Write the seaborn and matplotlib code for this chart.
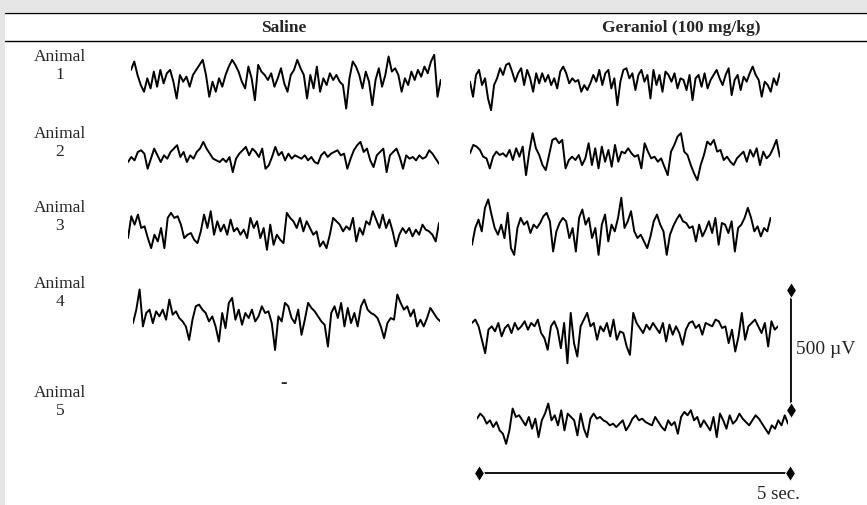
import numpy as np
import pandas as pd
import matplotlib
matplotlib.use("Agg")
import matplotlib.pyplot as plt
from matplotlib.patches import Rectangle
import seaborn as sns

sns.set_theme(style="white")
plt.rcParams['font.family'] = ['Liberation Serif', 'DejaVu Serif']

W, H = 867, 505
GROUPS = ['Saline', 'Geraniol (100 mg/kg)']
ANIMALS = ['1', '2', '3', '4', '5']

# EEG traces, in µV (positive = up)
SALINE_1 = [42, 77, 21, -21, -49, 7, -35, 35, -28, 42, -14, 28, 42, -7, -77, 21, -7, 14, -28, 21,
            42, 63, 84, 21, -70, -7, -49, 7, -28, 21, 56, 84, 63, 35, -7, -35, 56, 7, -84, 63,
            35, 21, 0, 28, -28, 7, 49, -14, -49, 21, 42, 84, 49, 21, -77, 21, -35, 56, -49, 7,
            -21, 28, 0, 21, -7, -21, -119, 7, 77, 56, 21, -35, 35, -7, -105, 0, 49, -28, 21, 98,
            35, 49, 21, -49, 7, -21, 35, 0, 42, 14, 56, 28, 77, 105, -70, 0]
GERANIOL_1 = [-7, -70, 21, 42, -21, 7, -77, -126, -21, 7, 49, 21, 63, 70, 35, -7, 28, 49, -21, 42,
              7, -49, 28, -14, 28, -7, 21, -21, 7, -35, 35, 56, 28, -14, 7, -7, 0, -49, -21, -42,
              -14, 21, -7, 42, -21, 28, 42, -35, 7, -105, -7, 42, 49, 7, 28, -42, 21, 42, -7, 21,
              -77, 42, -21, 21, -49, 35, 21, -7, 28, -35, 7, 0, -42, 21, -84, 7, 21, -28, 28, -35,
              0, 21, 42, 7, -21, 21, 49, -63, 0, 21, -42, 14, -7, 28, 56, 21, 0, -70, -7, -21,
              -49, 7, -21, 28]
SALINE_2 = [-21, 0, -14, 21, 28, 14, -49, -7, 35, 7, -21, 7, -7, 21, 35, 49, 0, 21, -21, 7,
            -7, 21, 35, 63, 35, 14, -7, -14, -21, -7, -21, 0, -63, -7, 14, 28, 42, 7, 35, 21,
            0, 35, -49, -35, 0, 42, 7, 21, -14, 14, -7, 7, 0, -7, 7, -14, 0, -21, -28, 7,
            21, 0, 14, 21, 28, 7, 14, -49, -7, 28, 49, 63, 21, 35, -14, -42, 7, 21, 35, -63,
            7, 21, 35, 0, -49, 7, -7, 0, -14, 7, -7, 0, 28, 14, -7, -28]
GERANIOL_2 = [7, 42, 35, 21, -7, -14, -56, -7, 14, 0, 7, -7, 21, -21, 28, -7, 35, -84, 14, 91,
              28, 0, -42, -63, 0, 63, 70, 49, 63, -56, -21, -7, -21, 0, -42, -14, 49, -42, 28, -56,
              35, -28, 21, -49, 42, -28, 14, 7, 28, 7, -7, 0, -56, 49, 14, -14, -7, -28, -14, -49,
              -84, 14, 42, 77, 91, 14, 0, -42, -77, -105, -42, 0, 56, 42, 63, 14, 21, -21, -7, -28,
              -42, -14, 0, 14, -28, 21, -7, 28, -42, 14, -14, 0, 28, 63, -7]
SALINE_3 = [-42, 49, 14, 56, 0, 7, -42, -84, -28, -56, 0, -84, 42, 63, 42, 49, 14, -42, -28, -21,
            -49, -63, -14, 56, 0, 70, -28, 28, -14, 14, -28, 35, -14, 0, -28, -7, -42, 42, 0, 28,
            -42, 0, -91, 14, -70, -28, -49, -63, 63, 42, 28, 0, 42, -14, 28, 0, -28, -14, -77, -56,
            -84, -28, 42, 28, 14, -14, 7, -7, 42, -56, 0, -28, 28, 14, 70, 35, 0, 56, 0, 35,
            -14, -77, -28, 0, -21, 0, -35, -7, -28, 14, -7, -14, -28, -56, 21]
GERANIOL_3 = [-70, 0, 35, -14, 84, 119, 56, 0, -28, 14, -42, 63, -84, -112, 0, 42, 14, 28, -21, 14,
              0, 21, 49, 63, 28, -98, -14, 21, 42, 28, -42, 0, -98, 42, 77, 14, 42, -42, 0, -112,
              14, 56, -56, 14, -14, 42, 126, 0, 28, 70, -14, -42, -28, -56, -84, -35, 28, 56, 14, -14,
              -112, -28, 7, 35, 56, 28, 21, 0, 7, -56, 14, -35, -7, 28, -21, 42, -70, 21, 14, -21,
              28, -98, 0, 14, 42, 84, 42, -14, 7, -35, 0, -14, 42]
SALINE_4 = [-42, 14, 98, -56, 0, 14, -42, 7, -14, 14, -28, 56, -7, 7, -21, -35, -56, -112, -28, 28,
            35, 14, 0, -35, -14, -56, -119, 0, -63, 42, 63, -28, 14, -49, 0, -21, 14, -35, -14, 28,
            0, 7, -42, -154, -14, -35, 42, 28, -21, -42, 14, -91, -28, 42, 21, 7, -14, -35, -49, -140,
            0, 28, -21, 42, -56, 21, -42, 0, -56, 28, 56, 14, 0, -7, -21, -56, -105, -42, -21, -28,
            77, 42, 14, 28, -14, 14, -56, -28, -56, -21, 21, 0, -21, -35]
GERANIOL_4 = [21, 35, 7, -49, -105, -7, 7, -14, 21, -35, 0, 14, -21, 21, -7, 7, 28, -7, 21, 7,
              35, -21, -42, -91, 7, 28, -7, -84, 21, -147, 63, -63, -119, 7, 35, 63, 7, 21, -49, 7,
              -14, 21, -35, 35, -49, -14, -21, -77, -112, 63, 21, 0, -21, 14, -7, 21, 0, -21, 21, -56,
              14, -28, 7, -21, -70, -7, 21, 28, 0, 14, -28, 21, 14, 7, 35, 28, 0, 7, -63, -7,
              -98, -35, 63, -49, 7, 21, 35, 7, -21, 21, -77, 28, -7, 7]
GERANIOL_5 = [14, 35, 21, -7, 7, -21, 0, -35, -49, -91, -35, 56, 21, 28, 7, -14, 21, -28, 14, -63,
              7, 35, 77, 7, 28, -14, 49, -35, 35, 21, 7, -56, 35, -28, -63, 14, 35, 14, 21, 7,
              0, -14, -7, -21, -7, 7, -35, -14, 14, 28, 7, 14, 0, -7, -14, 21, 0, -21, -35, 7,
              -14, 0, -49, 21, 42, 28, 49, 7, 21, -21, 7, -14, -35, 21, -63, 35, 7, -28, 28, -7,
              7, 35, 14, 0, -14, 7, 28, 14, -7, -28, -49, -14, -28, 7, -14, 28, -7]

TRACES = {
    ('Saline', '1'): SALINE_1, ('Geraniol (100 mg/kg)', '1'): GERANIOL_1,
    ('Saline', '2'): SALINE_2, ('Geraniol (100 mg/kg)', '2'): GERANIOL_2,
    ('Saline', '3'): SALINE_3, ('Geraniol (100 mg/kg)', '3'): GERANIOL_3,
    ('Saline', '4'): SALINE_4, ('Geraniol (100 mg/kg)', '4'): GERANIOL_4,
    ('Geraniol (100 mg/kg)', '5'): GERANIOL_5,
}
# recording length of each trace in seconds
DURATION = {
    ('Saline', '1'): 4.98, ('Geraniol (100 mg/kg)', '1'): 4.98,
    ('Saline', '2'): 5.0, ('Geraniol (100 mg/kg)', '2'): 4.98,
    ('Saline', '3'): 5.0, ('Geraniol (100 mg/kg)', '3'): 4.8,
    ('Saline', '4'): 4.94, ('Geraniol (100 mg/kg)', '4'): 4.92,
    ('Geraniol (100 mg/kg)', '5'): 5.0,
}
SCALE_UV = 500
SCALE_SEC = 5

# layout (pixels)
PX_PER_SEC = 311 / 5
PX_PER_UV = 120 / 500
TRACE_POS = {
    ('Saline', '1'): (131, 80), ('Geraniol (100 mg/kg)', '1'): (470, 80),
    ('Saline', '2'): (128, 157), ('Geraniol (100 mg/kg)', '2'): (470, 155),
    ('Saline', '3'): (128, 228), ('Geraniol (100 mg/kg)', '3'): (472, 228),
    ('Saline', '4'): (133, 313), ('Geraniol (100 mg/kg)', '4'): (472, 328),
    ('Geraniol (100 mg/kg)', '5'): (477, 422),
}
HEADER_X = {'Saline': 284, 'Geraniol (100 mg/kg)': 681}
LABEL_Y = {'1': 66, '2': 143, '3': 217, '4': 293, '5': 402}


def px_axes(fig, x0, ytop, w, h):
    return fig.add_axes([x0 / W, 1 - (ytop + h) / H, w / W, h / H])


fig = plt.figure(figsize=(W / 100, H / 100), dpi=100)
fig.patch.set_facecolor('#e6e6e6')

bg = px_axes(fig, 0, 0, W, H)
bg.set_xlim(0, W); bg.set_ylim(H, 0); bg.axis('off')
bg.add_patch(Rectangle((5, 12), W - 5, H - 12, facecolor='white', edgecolor='none'))
bg.plot([5, W], [13, 13], color='black', lw=1.0)
bg.plot([5, W], [41, 41], color='black', lw=1.0)
for g in GROUPS:
    bg.text(HEADER_X[g], 28, g, ha='center', va='center', fontsize=12.5, fontweight='bold')
for a in ANIMALS:
    bg.text(60, LABEL_Y[a], f'Animal\n{a}', ha='center', va='center', fontsize=12.5,
            linespacing=1.2)
bg.text(HEADER_X['Saline'], 384, '-', ha='center', va='center', fontsize=14, fontweight='bold')

half = 300
for key, vals in TRACES.items():
    t = np.linspace(0, DURATION[key], len(vals))
    x0, yb = TRACE_POS[key]
    ax = px_axes(fig, x0, yb - half * PX_PER_UV, DURATION[key] * PX_PER_SEC, 2 * half * PX_PER_UV)
    sns.lineplot(x=t, y=np.array(vals), ax=ax, color='black', lw=1.4)
    ax.set_xlim(0, DURATION[key]); ax.set_ylim(-half, half)
    ax.axis('off')

# scale bars: vertical 500 µV, horizontal 5 sec
sb = px_axes(fig, 479, 290, SCALE_SEC * PX_PER_SEC, 183)
sb.set_xlim(0, SCALE_SEC)
sb.set_ylim(-183 / PX_PER_UV + SCALE_UV, SCALE_UV)
sb.axis('off')
ybar = sb.get_ylim()[0]
sns.lineplot(x=[SCALE_SEC * 1.003] * 2, y=[0, SCALE_UV], ax=sb, color='black', lw=1.3,
             marker='d', markersize=8, estimator=None, sort=False, clip_on=False)
sns.lineplot(x=[0, SCALE_SEC], y=[ybar, ybar], ax=sb, color='black', lw=1.3,
             marker='d', markersize=8, estimator=None, sort=False, clip_on=False)
sb.text(SCALE_SEC * 1.02, SCALE_UV / 2, f'{SCALE_UV} µV', ha='left', va='center', fontsize=14)
sb.text(SCALE_SEC * 0.895, ybar - 90, f'{SCALE_SEC} sec.', ha='left', va='center', fontsize=13.5)

fig.savefig('out.png', dpi=100, facecolor=fig.get_facecolor())
